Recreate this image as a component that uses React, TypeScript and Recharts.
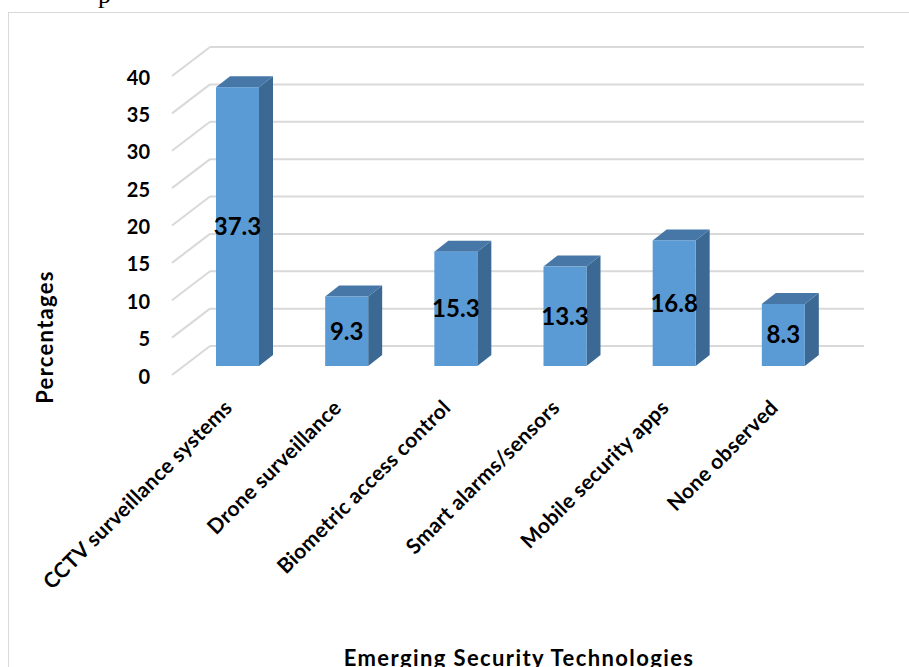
import React from "react";
import {
  BarChart,
  Bar,
  XAxis,
  YAxis,
  CartesianGrid,
  LabelList,
  Customized,
} from "recharts";

const categories = [
  "CCTV surveillance systems",
  "Drone surveillance",
  "Biometric access control",
  "Smart alarms/sensors",
  "Mobile security apps",
  "None observed",
];
const percentages = [37.3, 9.3, 15.3, 13.3, 16.8, 8.3];
const yTicks = [0, 5, 10, 15, 20, 25, 30, 35, 40];

const FONT = "Lato, 'Open Sans', sans-serif";
const GRID = "#d9d9d9";
// depth of the 3D look (px)
const BAR_DX = 14;
const BAR_DY = 11;

const data = categories.map((name, i) => ({ name, value: percentages[i] }));

function Bar3D(props: any) {
  const { x, y, width, height } = props;
  if (height <= 0) return null;
  const top = `${x},${y} ${x + BAR_DX},${y - BAR_DY} ${x + width + BAR_DX},${y - BAR_DY} ${x + width},${y}`;
  const side = `${x + width},${y} ${x + width + BAR_DX},${y - BAR_DY} ${x + width + BAR_DX},${y + height - BAR_DY} ${x + width},${y + height}`;
  return (
    <g>
      <polygon points={side} fill="#3b6993" />
      <polygon points={top} fill="#4677a6" />
      <rect x={x} y={y} width={width} height={height} fill="#5b9bd5" />
    </g>
  );
}

// back wall gridline + diagonal floor/wall edge
function GridLine3D(props: any) {
  const { x1, x2, y1 } = props;
  const backY = y1 - 20;
  const backL = x1 + 27;
  return (
    <g>
      <line x1={x1 - 11} y1={y1 + 9} x2={backL} y2={backY} stroke={GRID} strokeWidth={2} />
      <line x1={backL} y1={backY} x2={x2 + 26} y2={backY} stroke={GRID} strokeWidth={2} />
    </g>
  );
}

function YTick(props: any) {
  const { y, payload } = props;
  return (
    <text
      x={150}
      y={y + 9.5}
      textAnchor="end"
      dominantBaseline="central"
      fontFamily={FONT}
      fontWeight="bold"
      fontSize={20}
      fill="#000"
    >
      {payload.value}
    </text>
  );
}

function XTick(props: any) {
  const { x, payload } = props;
  const ax = x - 4;
  const ay = 409;
  return (
    <text
      x={ax}
      y={ay}
      textAnchor="end"
      transform={`rotate(-45, ${ax}, ${ay})`}
      fontFamily={FONT}
      fontWeight="bold"
      fontSize={21}
      letterSpacing={0.3}
      fill="#000"
    >
      {payload.value}
    </text>
  );
}

function Frame() {
  return (
    <g>
      <text x={98} y={3} fontFamily="'Liberation Serif', serif" fontSize={26} fill="#000">
        p
      </text>
      <rect x={8.5} y={12.5} width={1000} height={1000} fill="none" stroke={GRID} strokeWidth={1} />
      <text
        x={0}
        y={0}
        transform="translate(53, 337) rotate(-90)"
        textAnchor="middle"
        fontFamily={FONT}
        fontWeight="bold"
        fontSize={22}
        letterSpacing={1.3}
        fill="#000"
      >
        Percentages
      </text>
      <text
        x={519}
        y={666}
        textAnchor="middle"
        fontFamily={FONT}
        fontWeight="bold"
        fontSize={22}
        letterSpacing={1.4}
        fill="#000"
      >
        Emerging Security Technologies
      </text>
    </g>
  );
}

export default function App() {
  return (
    <div style={{ position: "absolute", left: 0, top: 0, width: 909, height: 667, background: "#fff" }}>
      <BarChart
        width={909}
        height={667}
        data={data}
        margin={{ top: 67, right: 71, bottom: 271, left: 123 }}
      >
        <Customized component={Frame} />
        <CartesianGrid vertical={false} horizontal={(p: any) => <GridLine3D {...p} />} />
        <XAxis
          dataKey="name"
          height={30}
          interval={0}
          axisLine={false}
          tickLine={false}
          tick={<XTick />}
        />
        <YAxis
          width={60}
          domain={[0, 40]}
          ticks={yTicks}
          axisLine={false}
          tickLine={false}
          tick={<YTick />}
        />
        <Bar dataKey="value" barSize={43} shape={<Bar3D />} isAnimationActive={false}>
          <LabelList
            dataKey="value"
            position="center"
            fill="#000"
            fontFamily={FONT}
            fontWeight="bold"
            fontSize={24}
          />
        </Bar>
      </BarChart>
    </div>
  );
}
